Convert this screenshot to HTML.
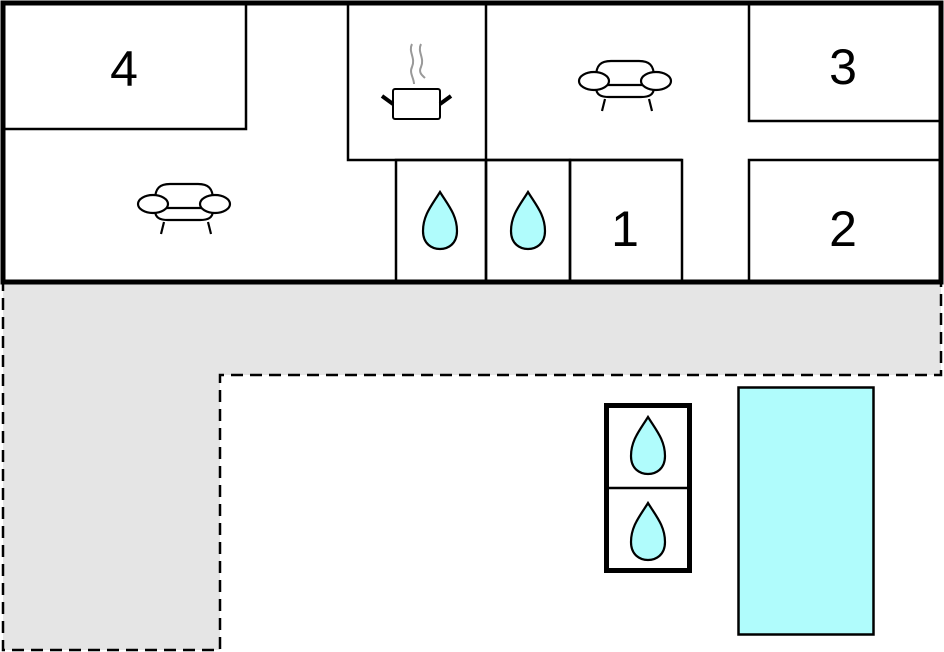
<!DOCTYPE html>
<html><head><style>html,body{margin:0;padding:0;background:#fff}svg{display:block}</style></head>
<body>
<svg width="944" height="652" viewBox="0 0 944 652" xmlns="http://www.w3.org/2000/svg">
<defs>
<path id="drop" d="M0,-29 C8,-16 17,-6 17,10 C17,23 8,28 0,28 C-8,28 -17,23 -17,10 C-17,-6 -8,-16 0,-29Z" fill="#b0fcfc" stroke="#000" stroke-width="2.2"/>
<g id="sofa" fill="none" stroke="#000" stroke-width="2.2">
<path d="M-29,-4 C-29,-16 -24,-20 -14,-20 L14,-20 C24,-20 29,-16 29,-4" fill="#fff"/>
<path d="M-29,6 C-29,14 -24,16 -16,16 L16,16 C24,16 29,14 29,6" fill="#fff"/>
<line x1="-17" y1="4" x2="17" y2="4"/>
<ellipse cx="-31" cy="0" rx="15" ry="9" fill="#fff"/>
<ellipse cx="31" cy="0" rx="15" ry="9" fill="#fff"/>
<line x1="-20" y1="18" x2="-23" y2="30"/>
<line x1="24" y1="18" x2="27" y2="30"/>
</g>
</defs>
<polygon points="3,282 941,282 941,375 220,375 220,650 3,650" fill="#e5e5e5" stroke="#000" stroke-width="2.5" stroke-dasharray="12,7"/>
<rect x="3" y="3" width="938" height="279" fill="#fff"/>
<g fill="none" stroke="#000" stroke-width="2.5">
<rect x="3" y="3" width="243" height="126"/>
<rect x="348" y="3" width="138" height="157"/>
<line x1="486" y1="160" x2="682" y2="160"/>
<rect x="749" y="3" width="192" height="118"/>
<rect x="749" y="160" width="192" height="122"/>
<rect x="396" y="160" width="90" height="122"/>
<rect x="486" y="160" width="84" height="122"/>
<rect x="570" y="160" width="112" height="122"/>
</g>
<rect x="3" y="3" width="938" height="279" fill="none" stroke="#000" stroke-width="5"/>
<g font-family="Liberation Sans, sans-serif" font-size="50" text-anchor="middle">
<text x="124" y="86">4</text>
<text x="843" y="84">3</text>
<text x="843" y="246">2</text>
<text x="625" y="246">1</text>
</g>
<use href="#sofa" x="184" y="204"/>
<use href="#sofa" x="625" y="81"/>
<g stroke="#000" fill="none">
<rect x="393" y="89" width="47" height="30" rx="2" fill="#fff" stroke-width="2"/>
<line x1="382" y1="96" x2="393" y2="104" stroke-width="4"/>
<line x1="451" y1="96" x2="440" y2="104" stroke-width="4"/>
<path d="M412,44 C408,52 416,58 412,67 C409,73 414,78 414,84" stroke="#999" stroke-width="2"/>
<path d="M421,44 C417,52 425,58 421,67 C418,73 423,76 425,78" stroke="#999" stroke-width="2"/>
</g>
<use href="#drop" x="440" y="221"/>
<use href="#drop" x="528" y="221"/>
<rect x="606.5" y="405.5" width="83" height="165" fill="#fff" stroke="#000" stroke-width="5"/>
<line x1="606" y1="488" x2="690" y2="488" stroke="#000" stroke-width="2.5"/>
<use href="#drop" x="648" y="446"/>
<use href="#drop" x="648" y="532"/>
<rect x="738.5" y="387.5" width="135" height="247" fill="#b0fcfc" stroke="#000" stroke-width="2.5"/>
</svg>
</body></html>
